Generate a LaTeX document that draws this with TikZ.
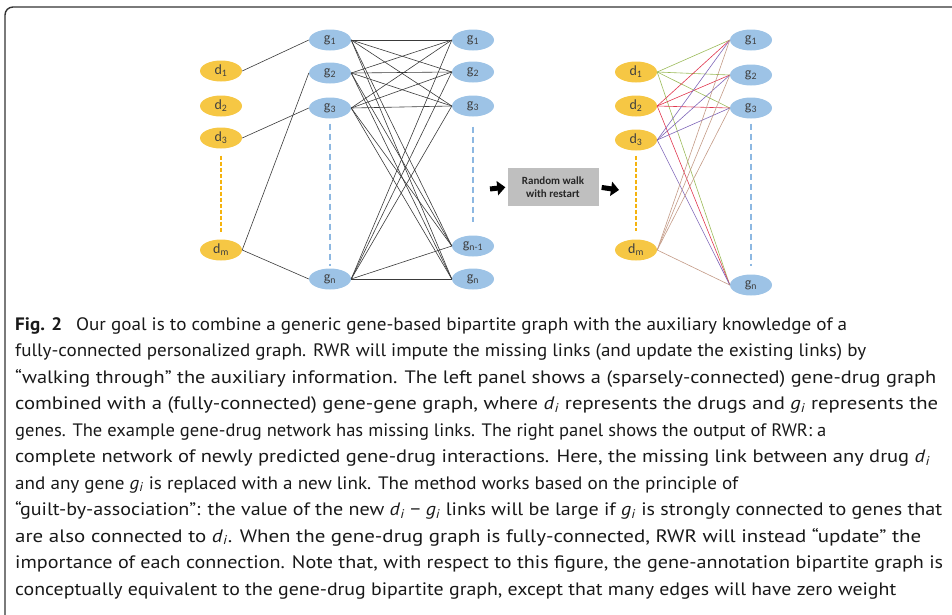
\documentclass[tikz,border=0pt]{standalone}
\usepackage{fontspec}
\setmainfont{Carlito}
\newfontfamily\capfont{PT Sans}
\usepackage{graphicx}
\usetikzlibrary{shapes.geometric,arrows.meta}

\definecolor{drugfill}{HTML}{F6C744}
\definecolor{genefill}{HTML}{9DC3E6}
\definecolor{labeltext}{HTML}{404040}
\definecolor{linkgray}{HTML}{3A3A3A}
\definecolor{drugdashc}{HTML}{F5B30E}
\definecolor{genedashc}{HTML}{8DB8E2}
\definecolor{boxgray}{HTML}{BFBFBF}
\definecolor{framec}{HTML}{333333}
\definecolor{lgreen}{HTML}{9BBB59}
\definecolor{lred}{HTML}{E0364F}
\definecolor{lpurple}{HTML}{7F66B8}
\definecolor{ltan}{HTML}{C39A86}

% caption lines are set at their natural height and stretched to a given width
\newsavebox\caplinebox
\newlength\caplinelen
\newcommand\fitline[2]{%
  \sbox\caplinebox{#2}%
  \setlength\caplinelen{\wd\caplinebox}%
  \pgfmathsetmacro\fitratio{#1/\caplinelen}%
  \scalebox{\fitratio}[1]{\usebox\caplinebox}}
\newcommand\iv[1]{\textit{#1}\textsubscript{\textit{i}}}

\tikzset{
  vertex/.style={ellipse, inner sep=0pt, minimum width=42pt, minimum height=21pt,
    text=labeltext, font=\fontsize{14}{14}\selectfont},
  drug/.style={vertex, fill=drugfill},
  gene/.style={vertex, fill=genefill},
  link/.style={draw=linkgray, line width=0.6pt},
  tint/.style={draw=#1, line width=0.6pt},
  drugdash/.style={draw=drugdashc, line width=1.6pt, dash pattern=on 4pt off 2pt},
  genedash/.style={draw=genedashc, line width=1.6pt, dash pattern=on 6pt off 4pt},
  rwrbox/.style={fill=boxgray, minimum width=91pt, minimum height=38pt, inner sep=1pt,
    align=center, text=black!85, font=\fontsize{11}{13.5}\selectfont\bfseries},
  blockarrow/.style={draw=black, line width=5pt, -{Triangle[length=8pt,width=14pt]}},
  capline/.style={anchor=base west, inner sep=0pt, text=black!90,
    font=\capfont\fontsize{18}{22}\selectfont},
}

\begin{document}
\begin{tikzpicture}[x=1pt, y=-1pt]
\useasboundingbox (0,0) rectangle (952,614);

% outer frame, open towards the right and the bottom
\draw[framec, line width=1.4pt, rounded corners=8pt] (5,630) -- (5,7) -- (970,7);

% ---- left panel: drug nodes
\node[drug] (d1) at (221,71) {d\textsubscript{1}};
\node[drug] (d2) at (221,106) {d\textsubscript{2}};
\node[drug] (d3) at (221,138) {d\textsubscript{3}};
\node[drug] (dm) at (221,250) {d\textsubscript{m}};

% ---- left panel: gene nodes (two columns)
\node[gene] (mg1) at (330,40) {g\textsubscript{1}};
\node[gene] (mg2) at (330,73) {g\textsubscript{2}};
\node[gene] (mg3) at (330,108) {g\textsubscript{3}};
\node[gene] (mgn) at (330,279) {g\textsubscript{n}};

\node[gene] (rg1) at (473,40) {g\textsubscript{1}};
\node[gene] (rg2) at (473,72) {g\textsubscript{2}};
\node[gene] (rg3) at (473,106) {g\textsubscript{3}};
\node[gene] (rgm) at (473,246) {g\textsubscript{n-1}};
\node[gene] (rgn) at (473,279) {g\textsubscript{n}};

\draw[drugdash, shorten <=7pt, shorten >=7pt] (d3.south) -- (dm.north);
\draw[genedash, shorten <=5pt, shorten >=2pt] (mg3.south) -- (mgn.north);
\draw[genedash, shorten <=10pt, shorten >=13pt] (rg3.south) -- (rgm.north);

% sparse gene-drug links
\draw[link] (d1.east) -- (mg1.west);
\draw[link] (d3.east) -- (mg3.west);
\draw[link] (dm.east) -- (mg2.west);
\draw[link] (dm.east) -- (mgn.west);

% full gene-gene links
\foreach \a in {mg1,mg2,mg3,mgn}
  \foreach \b in {rg1,rg2,rg3,rgm,rgn}
    \draw[link] (\a.east) -- (\b.west);

% ---- random walk step
\node[rwrbox] (rwr) at (553,187) {Random walk\\with restart};
\coordinate (rin) at (490,189);
\coordinate (rout) at (619,190);
\draw[blockarrow, shorten >=2pt] (rin) -- (rwr.west);
\draw[blockarrow, shorten <=3pt] (rwr.east) -- (rout);

% ---- right panel: predicted network
\node[drug] (pd1) at (636,72) {d\textsubscript{1}};
\node[drug] (pd2) at (636,106) {d\textsubscript{2}};
\node[drug] (pd3) at (636,140) {d\textsubscript{3}};
\node[drug] (pdm) at (636,250) {d\textsubscript{m}};

\node[gene] (pg1) at (751,40) {g\textsubscript{1}};
\node[gene] (pg2) at (751,75) {g\textsubscript{2}};
\node[gene] (pg3) at (751,108) {g\textsubscript{3}};
\node[gene] (pgn) at (751,285) {g\textsubscript{n}};

\draw[drugdash, shorten <=5pt, shorten >=8pt] (pd3.south) -- (pdm.north);
\draw[genedash, shorten <=5pt, shorten >=8pt] (pg3.south) -- (pgn.north);

\foreach \d/\c in {pd1/lgreen, pd2/lred, pd3/lpurple, pdm/ltan}
  \foreach \g in {pg1,pg2,pg3,pgn}
    \draw[tint=\c] (\d.east) -- (\g.west);

% ---- caption
\node[capline] (c1) at (15,330) {\fitline{832}{\textbf{Fig. 2}\hspace{0.45em} Our goal is to combine a generic gene-based bipartite graph with the auxiliary knowledge of a}};
\node[capline] (c2) at (15,356.5) {\fitline{851}{fully-connected personalized graph. RWR will impute the missing links (and update the existing links) by}};
\node[capline] (c3) at (15,383) {\fitline{921}{“walking through” the auxiliary information. The left panel shows a (sparsely-connected) gene-drug graph}};
\node[capline] (c4) at (15,409.5) {\fitline{923}{combined with a (fully-connected) gene-gene graph, where \iv{d} represents the drugs and \iv{g} represents the}};
\node[capline] (c5) at (15,436) {\fitline{811}{genes. The example gene-drug network has missing links. The right panel shows the output of RWR: a}};
\node[capline] (c6) at (15,462.5) {\fitline{915}{complete network of newly predicted gene-drug interactions. Here, the missing link between any drug \iv{d}}};
\node[capline] (c7) at (15,489) {\fitline{723}{and any gene \iv{g} is replaced with a new link. The method works based on the principle of}};
\node[capline] (c8) at (15,515.5) {\fitline{927}{“guilt-by-association”: the value of the new \iv{d} − \iv{g} links will be large if \iv{g} is strongly connected to genes that}};
\node[capline] (c9) at (15,542) {\fitline{906}{are also connected to \iv{d}. When the gene-drug graph is fully-connected, RWR will instead “update” the}};
\node[capline] (c10) at (15,568.5) {\fitline{928}{importance of each connection. Note that, with respect to this figure, the gene-annotation bipartite graph is}};
\node[capline] (c11) at (15,595) {\fitline{881}{conceptually equivalent to the gene-drug bipartite graph, except that many edges will have zero weight}};
\end{tikzpicture}
\end{document}
